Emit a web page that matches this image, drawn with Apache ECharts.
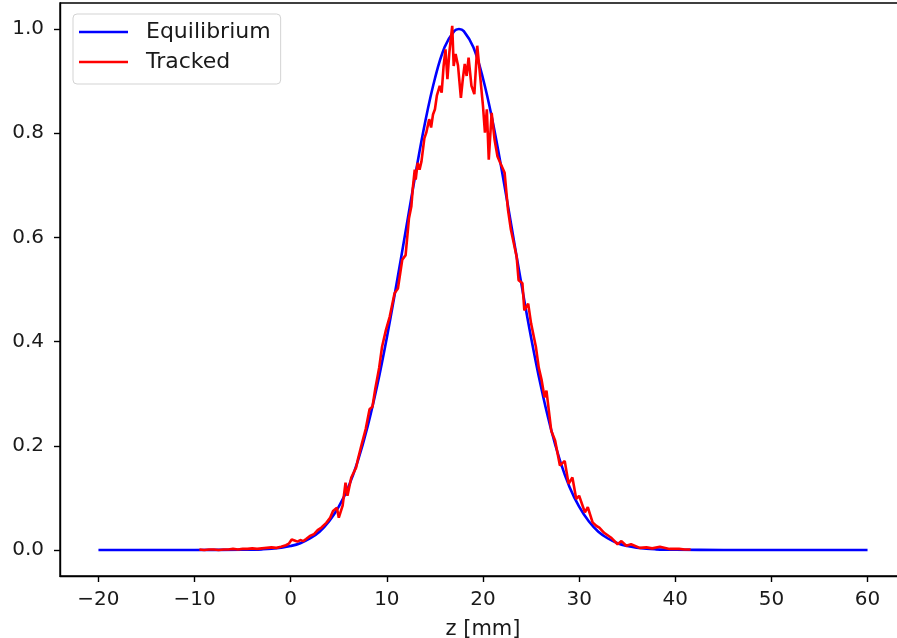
<!DOCTYPE html>
<html>
<head>
<meta charset="utf-8">
<script src="https://cdn.jsdelivr.net/npm/echarts@6/dist/echarts.min.js"></script>
<style>html,body{margin:0;padding:0;background:#fff}#c{width:897px;height:638px}</style>
</head>
<body>
<div id="c"></div>
<script>
// Equilibrium profile: z positions and values
const eqZ = [
  -20,-15,-10,-5,-4,-3,-2,-1,
  0,1,2,3,4,5,6,7,8,9,
  10,11,12,13,14,15,16,17,17.5,18,19,
  20,21,22,23,24,25,26,27,28,29,
  30,31,32,33,34,35,36,37,38,39,40,45,50,55,60
];
const eqV = [
  0,0,0,0.0003,0.0006,0.0012,0.0023,0.0043,
  0.0076,0.013,0.022,0.035,0.055,0.083,0.121,0.172,0.237,0.316,
  0.408,0.510,0.617,0.724,0.823,0.905,0.965,0.996,1.0,0.996,0.965,
  0.905,0.823,0.724,0.617,0.510,0.408,0.316,0.237,0.172,0.121,
  0.083,0.055,0.035,0.022,0.013,0.0076,0.0043,0.0023,0.0012,0.0006,0.0003,0,0,0,0
];
// Tracked profile: z positions and values
const trackedZ = [
  -9.5,-9,-8.5,-8,-7.5,-7,-6.5,-6,-5.5,-5,-4.5,-4,-3.5,-3,-2.5,-2,-1.5,-1,-0.5,-0.2,
  0.1,0.4,0.7,1.0,1.3,1.6,2.0,2.4,2.8,3.2,3.7,4.1,4.4,4.8,5.0,5.4,5.7,5.9,6.3,6.8,
  7.0,7.4,7.8,8.2,8.5,8.8,9.2,9.5,9.9,10.3,10.8,11.15,11.6,11.95,12.3,12.55,12.7,12.9,
  13.0,13.2,13.4,13.6,13.9,14.1,14.4,14.6,14.8,15.0,15.2,15.5,15.7,15.9,16.1,16.3,16.5,16.8,
  16.95,17.15,17.4,17.7,17.9,18.1,18.3,18.5,18.8,19.1,19.4,19.6,20.0,20.2,20.4,20.6,20.9,
  21.2,21.5,21.8,22.25,22.6,22.9,23.5,23.7,24.1,24.3,24.7,25.0,25.5,25.8,26.1,26.4,26.6,
  27.1,27.5,28.0,28.5,28.9,29.3,29.7,30.0,30.6,30.9,31.4,31.8,32.1,32.6,33.3,34.0,34.4,
  34.9,35.4,36.3,37.0,37.6,38.4,39.4,40.4,41.0,41.6
];
const trackedV = [
  0.001,0.000,0.001,0.001,0.000,0.001,0.001,0.002,0.001,0.002,0.002,0.003,0.002,0.003,0.004,0.005,0.004,0.006,0.009,0.012,
  0.020,0.018,0.016,0.019,0.017,0.021,0.027,0.030,0.038,0.043,0.052,0.062,0.075,0.081,0.062,0.085,0.129,0.104,0.139,0.158,
  0.175,0.204,0.232,0.270,0.275,0.310,0.350,0.390,0.422,0.448,0.493,0.502,0.557,0.566,0.637,0.660,0.695,0.730,
  0.711,0.743,0.730,0.746,0.790,0.801,0.827,0.811,0.836,0.846,0.872,0.891,0.878,0.929,0.961,0.904,0.955,1.006,
  0.929,0.952,0.930,0.868,0.904,0.933,0.910,0.945,0.891,0.875,0.968,0.930,0.852,0.801,0.846,0.749,0.839,
  0.788,0.756,0.743,0.724,0.653,0.615,0.563,0.518,0.512,0.460,0.473,0.435,0.390,0.350,0.326,0.293,0.306,
  0.229,0.210,0.162,0.171,0.127,0.139,0.098,0.104,0.072,0.082,0.053,0.046,0.043,0.033,0.024,0.011,0.017,
  0.008,0.011,0.004,0.005,0.003,0.006,0.002,0.002,0.001,0.001
];
const xTicks = [-20,-10,0,10,20,30,40,50,60];
const yTicks = [0,0.2,0.4,0.6,0.8,1.0];
const seriesNames = ['Equilibrium','Tracked'];
const xName = 'z [mm]';

const font = 'DejaVu Sans';
const txt = '#1a1a1a';
const chart = echarts.init(document.getElementById('c'), null, {renderer:'canvas'});
chart.setOption({
  animation: false,
  backgroundColor: '#fff',
  grid: {left: 60, top: 3, width: 846, height: 573, outerBoundsMode: 'none', containLabel: false,
         show: true, borderColor: '#000', borderWidth: 1.4, backgroundColor: 'transparent'},
  legend: {
    orient: 'vertical', left: 73, top: 14,
    data: seriesNames.map(n => ({name: n, icon: 'rect'})),
    itemWidth: 49, itemHeight: 2.6, itemGap: 0,
    padding: [3, 10, 7, 6],
    backgroundColor: 'rgba(255,255,255,0.8)',
    borderColor: '#d3d3d3', borderWidth: 1, borderRadius: 4,
    textStyle: {fontFamily: font, fontSize: 22, color: txt, lineHeight: 30, padding: [0,0,0,13]}
  },
  xAxis: {
    type: 'value', min: -24, max: 64,
    name: xName, nameLocation: 'middle', nameGap: 43,
    nameTextStyle: {fontFamily: font, fontSize: 21, color: txt},
    axisLine: {show: true, onZero: false, lineStyle: {color: '#000', width: 1.4}},
    axisTick: {show: true, length: 6, customValues: xTicks, lineStyle: {color: '#000', width: 1.4}},
    axisLabel: {customValues: xTicks, fontFamily: font, fontSize: 20, color: txt, margin: 14,
      formatter: v => v < 0 ? '\u2212' + Math.abs(v) : String(v)},
    splitLine: {show: false}
  },
  yAxis: {
    type: 'value', min: -0.05, max: 1.05,
    axisLine: {show: true, onZero: false, lineStyle: {color: '#000', width: 1.4}},
    axisTick: {show: true, length: 6, customValues: yTicks, lineStyle: {color: '#000', width: 1.4}},
    axisLabel: {customValues: yTicks, fontFamily: font, fontSize: 20, color: txt, margin: 16,
      formatter: v => v.toFixed(1)},
    splitLine: {show: false}
  },
  series: [
    {name: seriesNames[0], type: 'line', showSymbol: false, smooth: 0.4,
     data: eqZ.map((z, i) => [z, eqV[i]]),
     lineStyle: {color: '#0000ff', width: 2.6}, itemStyle: {color: '#0000ff'}},
    {name: seriesNames[1], type: 'line', showSymbol: false,
     data: trackedZ.map((z, i) => [z, trackedV[i]]),
     lineStyle: {color: '#ff0000', width: 2.6}, itemStyle: {color: '#ff0000'}}
  ]
});
</script>
</body>
</html>
